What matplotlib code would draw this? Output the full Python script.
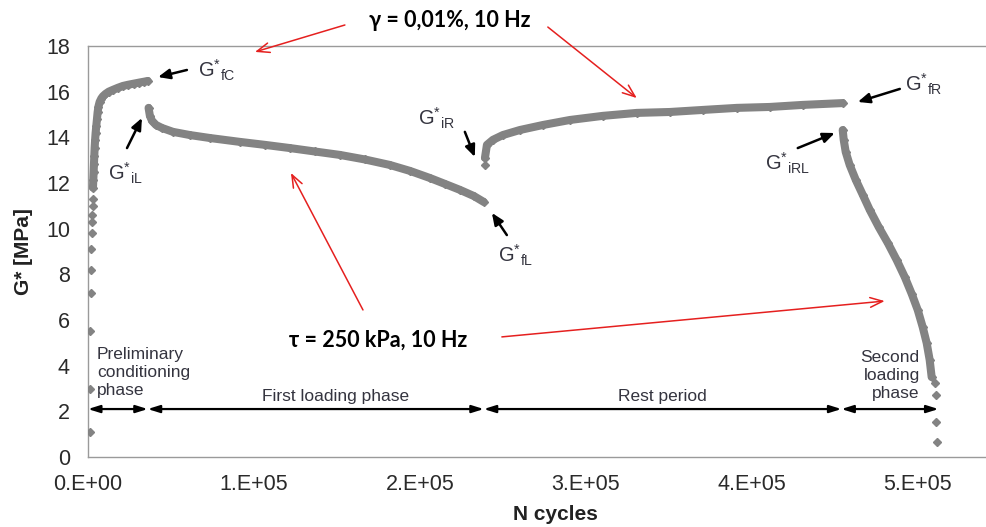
import matplotlib.pyplot as plt
from matplotlib.ticker import FixedLocator, FixedFormatter

plt.rcParams['font.family'] = ['Liberation Sans', 'DejaVu Sans']
plt.rcParams['mathtext.fontset'] = 'custom'
plt.rcParams['mathtext.rm'] = 'Liberation Sans'
plt.rcParams['mathtext.it'] = 'Liberation Sans:italic'

# conditioning phase: first scattered readings, then the continuous band
cond_sparse_n = [1000, 1200, 1400, 1600, 1800, 2000, 2200, 2400, 2600, 2800, 2900]
cond_sparse_g = [1.1, 3.0, 5.5, 7.2, 8.2, 9.1, 9.8, 10.3, 10.6, 11.0, 11.3]
cond_n = [3000, 3200, 3400, 3600, 3800, 4000, 4300, 4600, 5000, 5400, 5800, 6300, 7000,
          8000, 9000, 10500, 12500, 15000, 18000, 21000, 24000, 27500, 31000, 34000, 36000]
cond_g = [11.8, 12.15, 12.5, 12.85, 13.2, 13.55, 13.9, 14.2, 14.5, 14.8, 15.1, 15.35, 15.55,
          15.7, 15.8, 15.9, 16.0, 16.08, 16.17, 16.25, 16.3, 16.35, 16.4, 16.44, 16.47]

# first loading phase
load1_n = [36500, 37300, 38600, 41000, 44600, 51200, 61400, 73500, 91600, 106600, 121700,
           136700, 151800, 166900, 181900, 194000, 206000, 215100, 224100, 232500, 238500]
load1_g = [15.29, 14.94, 14.72, 14.54, 14.41, 14.24, 14.10, 13.97, 13.80, 13.67, 13.53,
           13.38, 13.23, 13.03, 12.79, 12.53, 12.22, 11.96, 11.70, 11.43, 11.17]

# rest period
rest_first_n = [239500]
rest_first_g = [12.8]
rest_n = [239200, 240400, 244000, 250000, 260200, 274100, 290400, 310200, 330700,
          350600, 370500, 391000, 410800, 430700, 454800]
rest_g = [13.10, 13.67, 13.89, 14.10, 14.32, 14.54, 14.76, 14.94, 15.07,
          15.11, 15.20, 15.29, 15.33, 15.42, 15.50]

# second loading phase: continuous band, then last scattered readings
load2_n = [454800, 455400, 456600, 459000, 462700, 466900, 471100, 476500, 482000,
           487300, 492200, 496400, 500000, 503000, 505400, 507200, 508400]
load2_g = [14.32, 13.89, 13.36, 12.79, 12.13, 11.48, 10.82, 10.07, 9.37,
           8.63, 7.88, 7.14, 6.44, 5.69, 4.99, 4.25, 3.50]
load2_sparse_n = [510200, 510800, 511300, 511500]
load2_sparse_g = [3.24, 2.72, 1.53, 0.66]

# phase boundaries (cycles)
phase_edges = [0, 36000, 238500, 454000, 512500]
phase_arrow_g = 2.1

n_ticks = [0, 100000, 200000, 300000, 400000, 500000]
n_tick_labels = ['0.E+00', '1.E+05', '2.E+05', '3.E+05', '4.E+05', '5.E+05']
g_ticks = [0, 2, 4, 6, 8, 10, 12, 14, 16, 18]

fig = plt.figure(figsize=(9.86, 5.27), dpi=100)
ax = fig.add_axes([88 / 986, 70 / 527, 921 / 986, 411 / 527])
ax.set_xlim(0, 555000)
ax.set_ylim(0, 18)

grey = '#838383'
for n, g in [(cond_n, cond_g), (load1_n, load1_g), (rest_n, rest_g), (load2_n, load2_g)]:
    ax.plot(n, g, '-', color=grey, lw=5.8, solid_capstyle='round', zorder=3)
    ax.plot(n, g, 'D', color=grey, ms=3.8, zorder=3)
for n, g in [(cond_sparse_n, cond_sparse_g), (rest_first_n, rest_first_g),
             (load2_sparse_n, load2_sparse_g)]:
    ax.plot(n, g, 'D', color=grey, ms=4.3, zorder=3)

# axes styling
for side in ['left', 'bottom', 'top']:
    ax.spines[side].set_color('#9a9a9a')
    ax.spines[side].set_linewidth(1.0)
ax.spines['right'].set_visible(False)
ax.xaxis.set_major_locator(FixedLocator(n_ticks))
ax.xaxis.set_major_formatter(FixedFormatter(n_tick_labels))
ax.set_yticks(g_ticks)
ax.tick_params(length=0, labelsize=15.5, colors='#2a2a2a')
ax.tick_params(axis='y', pad=13)
ax.tick_params(axis='x', pad=12)
ax.set_xlabel('N cycles', fontsize=15, fontweight='bold', color='#222222')
ax.set_ylabel('G* [MPa]', fontsize=15, fontweight='bold', color='#222222')
ax.xaxis.set_label_coords(0.507, -0.118)
ax.yaxis.set_label_coords(-0.060, 0.5)

# phase span arrows
for a, b in zip(phase_edges[:-1], phase_edges[1:]):
    ax.annotate('', xy=(b, phase_arrow_g), xytext=(a, phase_arrow_g),
                arrowprops=dict(arrowstyle='<|-|>,head_length=0.7,head_width=0.22',
                                color='black', lw=1.6, shrinkA=0, shrinkB=0), zorder=4)

txt_col = '#34343f'
ax.text(5400, 3.68, 'Preliminary\nconditioning\nphase', ha='left', va='center',
        fontsize=12.5, color=txt_col, linespacing=1.25)
ax.text(149400, 2.67, 'First loading phase', ha='center', va='center', fontsize=12.5, color=txt_col)
ax.text(346400, 2.67, 'Rest period', ha='center', va='center', fontsize=12.5, color=txt_col)
ax.text(501200, 3.55, 'Second\nloading\nphase', ha='right', va='center', multialignment='right',
        fontsize=12.5, color=txt_col, linespacing=1.25)

# G* markers with black arrows
black_arrow = dict(arrowstyle='-|>,head_length=0.7,head_width=0.3', color='black', lw=1.8,
                   shrinkA=0, shrinkB=0)
g_labels = [
    (r'G$^{*}{}_{\mathrm{fC}}$', (66300, 16.95), (59600, 16.95), (42200, 16.64)),
    (r'G$^{*}{}_{\mathrm{iL}}$', (12000, 12.44), (23500, 13.53), (32500, 14.85)),
    (r'G$^{*}{}_{\mathrm{iR}}$', (198800, 14.85), (227100, 14.24), (233100, 13.14)),
    (r'G$^{*}{}_{\mathrm{fL}}$', (247000, 8.85), (252400, 9.72), (243400, 10.69)),
    (r'G$^{*}{}_{\mathrm{fR}}$', (492200, 16.3), (489200, 16.12), (463900, 15.55)),
    (r'G$^{*}{}_{\mathrm{iRL}}$', (407800, 12.88), (427700, 13.53), (450000, 14.19)),
]
for label, pos, tail, head in g_labels:
    ax.text(pos[0], pos[1], label, ha='left', va='center', fontsize=14.5, color=txt_col)
    ax.annotate('', xy=head, xytext=tail, arrowprops=black_arrow, zorder=5)

# loading conditions with red arrows
red = '#e5201f'
red_arrow = dict(arrowstyle='->,head_length=0.9,head_width=0.35', color=red, lw=1.1,
                 shrinkA=0, shrinkB=0)
bold_font = ['Lato', 'DejaVu Sans']
ax.text(218000, 19.1, 'γ = 0,01%, 10 Hz', ha='center', va='center', fontsize=15.5,
        fontweight='bold', family=bold_font, color='black', clip_on=False)
ax.text(174700, 5.12, 'τ = 250 kPa, 10 Hz', ha='center', va='center', fontsize=15.5,
        fontweight='bold', family=bold_font, color='black')
for tail, head in [((154800, 18.92), (100600, 17.74)), ((277100, 18.83), (330700, 15.72)),
                   ((165700, 6.44), (122300, 12.44)), ((249400, 5.26), (480100, 6.83))]:
    ax.annotate('', xy=head, xytext=tail, arrowprops=red_arrow, annotation_clip=False, zorder=5)

fig.savefig('out.png', dpi=100)
